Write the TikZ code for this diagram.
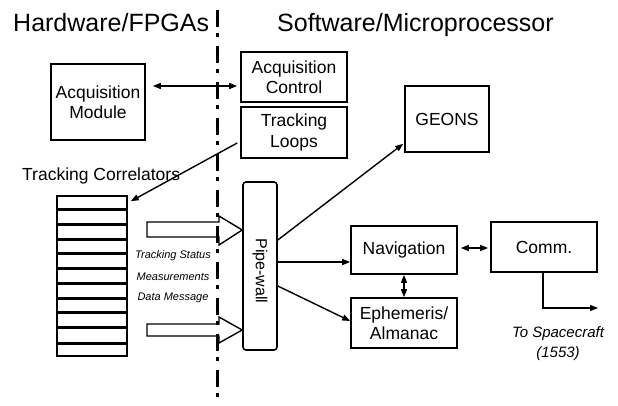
\documentclass[tikz,border=0pt]{standalone}
\usepackage{fontspec}
\setmainfont{Liberation Sans}
\usetikzlibrary{arrows.meta,calc}
\begin{document}
\begin{tikzpicture}[x=1pt,y=-1pt,
  box/.style={draw,line width=1.6pt,align=center,inner sep=0pt,font=\fontsize{17.5}{20.5}\selectfont},
  conn/.style={line width=1.4pt,-{Triangle[length=8pt,width=6pt]}},
  conntwo/.style={line width=1.4pt,{Triangle[length=8pt,width=6pt]}-{Triangle[length=8pt,width=6pt]}},
  small/.style={font=\fontsize{11}{13}\selectfont\itshape},
  title/.style={font=\fontsize{25}{30}\selectfont,anchor=base west,inner sep=0pt},
  blockarrow/.style={draw,line width=1.4pt,line join=miter}
  ]
\useasboundingbox (0,0) rectangle (618,406);

% titles
\node[title] (hw) at (13,32) {Hardware/FPGAs};
\node[title] (sw) at (277,32) {Software/Microprocessor};

% boxes
\node[box,minimum width=94pt,minimum height=76pt] (am) at (98,102) {Acquisition\\Module};
\node[box,minimum width=106pt,minimum height=50pt] (ac) at (294,77) {Acquisition\\Control};
\node[box,minimum width=106pt,minimum height=51pt] (tl) at (294,132.5) {Tracking\\Loops};
\node[box,minimum width=84pt,minimum height=66pt] (geons) at (447,119) {GEONS};
\node[draw,line width=1.6pt,rounded corners=3pt,minimum width=34pt,minimum height=168pt,inner sep=0pt] (pw) at (260,266) {};
\node[rotate=-90,font=\fontsize{16}{18}\selectfont,inner sep=0pt] (pwt) at (260,271) {Pipe-wall};
\node[box,minimum width=106pt,minimum height=48pt] (nav) at (404,250) {Navigation};
\node[box,minimum width=106pt,minimum height=50pt] (eph) at (404,323) {Ephemeris/\\Almanac};
\node[box,minimum width=106pt,minimum height=50pt] (comm) at (544,247) {Comm.};

% correlators
\node[anchor=base west,inner sep=0pt,font=\fontsize{17.5}{21}\selectfont] (tc) at (22,181) {Tracking Correlators};
\node[draw,line width=1.6pt,minimum width=70pt,minimum height=160pt,inner sep=0pt] (corr) at (92,276) {};
\foreach \y in {209,224,239,253,268,283,298,312,327,343}
  \draw[line width=3pt] (corr.west |- 0,\y) -- (corr.east |- 0,\y);

% small labels
\node[small] (l1) at (173,256) {Tracking Status};
\node[small] (l2) at (173,277) {Measurements};
\node[small] (l3) at (173,298) {Data Message};

% block arrows
\draw[blockarrow] (147,222) -- (219,222) -- (219,216) -- (pw.west |- 0,230) -- (219,245) -- (219,237) -- (147,237) -- cycle;
\draw[blockarrow] (147,324) -- (219,324) -- (219,317) -- (pw.west |- 0,330) -- (219,343) -- (219,336) -- (147,336) -- cycle;

% connectors
\draw[conntwo] ([xshift=7pt,yshift=16pt]am.east) -- ([xshift=-3pt,yshift=-9pt]ac.west);
\draw[conn] ([xshift=-3pt,yshift=-10.5pt]tl.west) -- ([xshift=3pt,yshift=-6pt]corr.north east);
\draw[conn] ([yshift=26pt]pw.east) -- ([xshift=-1pt,yshift=9pt]geons.south west);
\coordinate (navin) at ([yshift=-12pt]nav.west);
\draw[conn] (pw.east |- navin) -- (navin);
\draw[conn] ([yshift=-20pt]pw.east) -- ([yshift=2pt]eph.west);
\draw[conntwo] (nav.south) -- (eph.north);
\draw[conntwo] ([xshift=3pt,yshift=2pt]nav.east) -- ([xshift=-2pt,yshift=2pt]nav.east -| comm.west);
\coordinate (out) at (598,308);
\draw[conn] ([xshift=-1pt]comm.south) |- (out);
\node[font=\fontsize{15}{20}\selectfont\itshape,align=center] (sc) at (558,344) {To Spacecraft\\(1553)};

% divider
\draw[line width=3pt,dash pattern=on 17pt off 6pt on 4pt off 9pt] (217,10) -- (217,406);
\end{tikzpicture}
\end{document}
